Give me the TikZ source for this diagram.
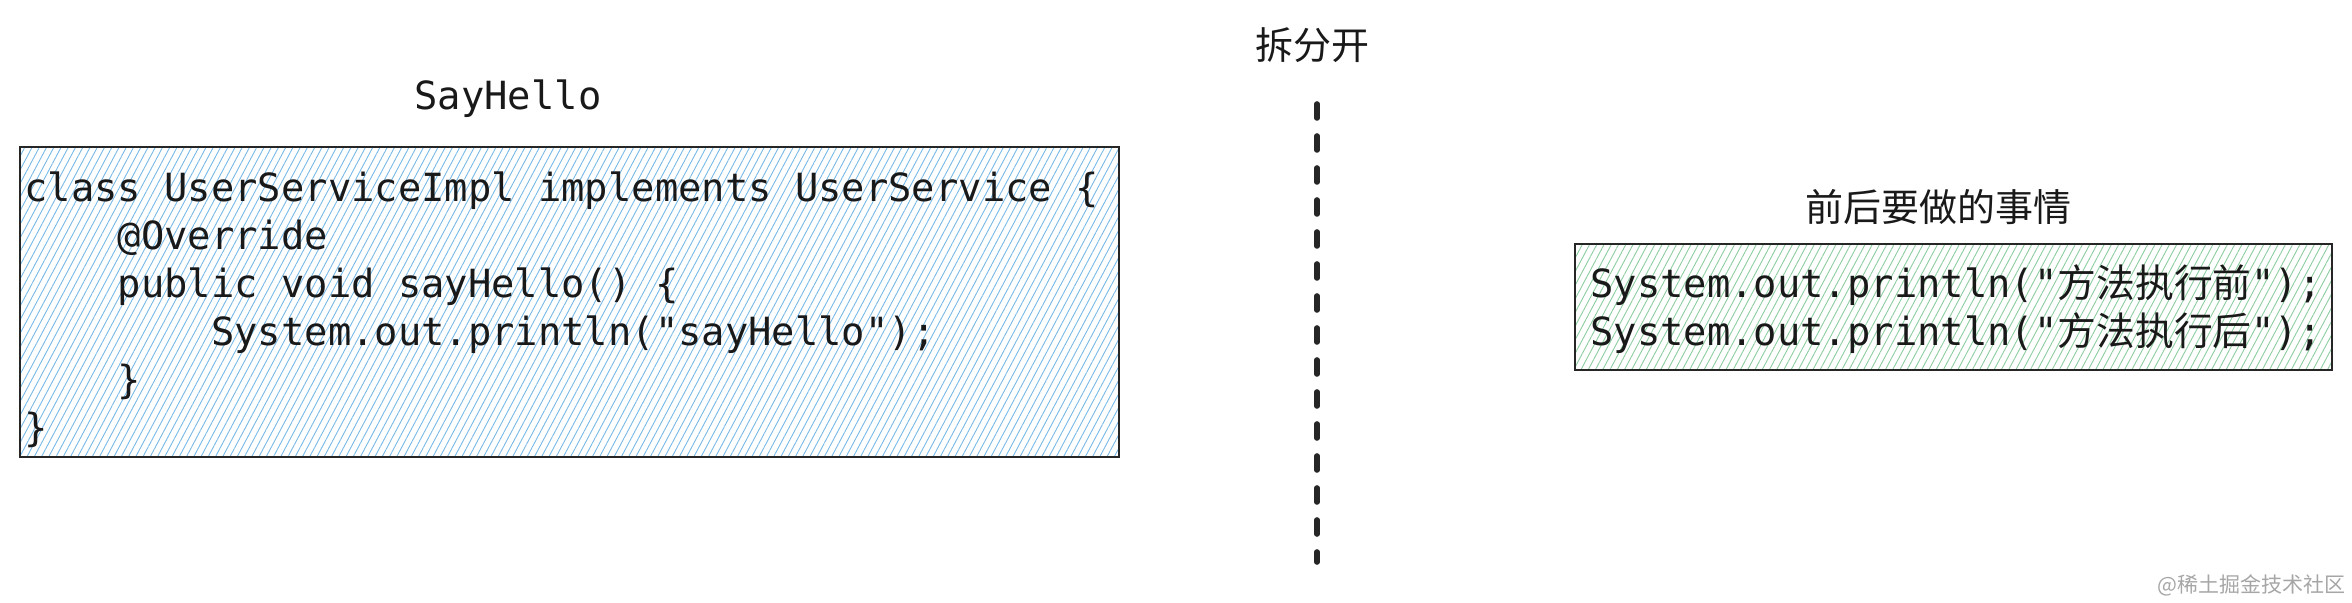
\documentclass[tikz,border=0pt]{standalone}
\usepackage{fontspec}
\setmonofont{DejaVu Sans Mono}
\newfontfamily\cjk{Noto Sans CJK SC}
\usetikzlibrary{patterns.meta}
\definecolor{hatchblue}{RGB}{120,185,230}
\definecolor{hatchgreen}{RGB}{140,205,160}
\tikzset{
  codebox/.style={draw=black!85, line width=1pt, inner sep=0pt},
  codetext/.style={font=\fontsize{19.4}{24}\selectfont\ttfamily, align=left, inner sep=0pt, text=black!90},
  title/.style={font=\fontsize{19}{22}\selectfont, inner sep=0pt, text=black!90},
}
\begin{document}
\begin{tikzpicture}[x=0.5pt,y=-0.5pt]
\useasboundingbox (0,0) rectangle (2352,603);
% left box
\path[fill=hatchblue!8, pattern={Lines[angle=62,distance=3.2pt,line width=0.45pt]}, pattern color=hatchblue]
  (20,147) rectangle (1119,457);
\draw[codebox] (20,147) rectangle (1119,457);
\node[codetext, anchor=west] (code) at (24,310) {class UserServiceImpl implements UserService \{\\
\ \ \ \ @Override\\
\ \ \ \ public void sayHello() \{\\
\ \ \ \ \ \ \ \ System.out.println("sayHello");\\
\ \ \ \ \}\\
\}};
\node[title, font=\fontsize{19.4}{22}\selectfont\ttfamily] (t1) at (508,99) {SayHello};
% divider
\node[title, font=\fontsize{19}{22}\selectfont\cjk] (t2) at (1312,45) {拆分开};
\coordinate (d1) at (1317,104);
\coordinate (d2) at (1317,562);
\draw[line width=2.8pt, line cap=round, dash pattern=on 7pt off 9pt, black!85] (d1) -- (d2);
% right box
\path[fill=hatchgreen!8, pattern={Lines[angle=62,distance=3.2pt,line width=0.45pt]}, pattern color=hatchgreen]
  (1575,244) rectangle (2332,370);
\draw[codebox] (1575,244) rectangle (2332,370);
\node[title, font=\fontsize{19}{22}\selectfont\cjk] (t3) at (1938,207) {前后要做的事情};
\node[codetext, anchor=west] (code2) at (1590,309) {System.out.println("{\cjk 方法执行前}");\\System.out.println("{\cjk 方法执行后}");};
\node[font=\fontsize{10.5}{12}\selectfont\cjk, text=black!35, anchor=east, inner sep=0pt] (wm) at (2346,585) {@稀土掘金技术社区};
\end{tikzpicture}
\end{document}
